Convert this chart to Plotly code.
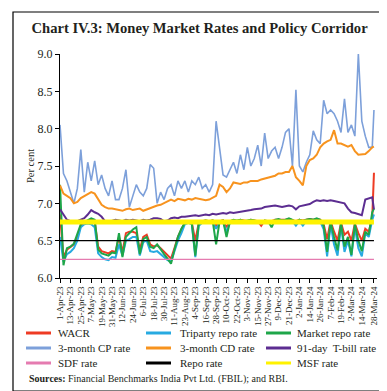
import pandas as pd
import plotly.graph_objects as go

# ---------------- data ----------------
dates = list(pd.date_range("2023-04-01", "2024-03-26", freq="4D").strftime("%Y-%m-%d")) + ["2024-03-28"]

wacr = [6.85, 6.28, 6.38, 6.42, 6.45, 6.55, 6.70, 6.74, 6.76, 6.78,
        6.76, 6.42, 6.36, 6.35, 6.33, 6.36, 6.35, 6.55, 6.35, 6.60,
        6.62, 6.62, 6.60, 6.38, 6.55, 6.58, 6.45, 6.42, 6.44, 6.40,
        6.35, 6.30, 6.26, 6.40, 6.55, 6.65, 6.74, 6.76, 6.74, 6.50,
        6.74, 6.76, 6.77, 6.76, 6.77, 6.70, 6.76, 6.77, 6.68, 6.76,
        6.77, 6.76, 6.78, 6.77, 6.76, 6.78, 6.77, 6.76, 6.70, 6.77,
        6.76, 6.76, 6.78, 6.78, 6.77, 6.78, 6.79, 6.78, 6.76, 6.78,
        6.77, 6.78, 6.79, 6.78, 6.79, 6.78, 6.72, 6.52, 6.76, 6.62,
        6.50, 6.74, 6.58, 6.62, 6.50, 6.73, 6.60, 6.50, 6.66, 6.62,
        6.80, 7.41]
triparty = [6.55, 6.22, 6.32, 6.35, 6.40, 6.50, 6.68, 6.72, 6.73, 6.72,
            6.68, 6.33, 6.28, 6.25, 6.24, 6.28, 6.27, 6.45, 6.30, 6.50,
            6.52, 6.55, 6.55, 6.30, 6.48, 6.50, 6.36, 6.35, 6.36, 6.32,
            6.28, 6.24, 6.22, 6.35, 6.50, 6.60, 6.72, 6.74, 6.72, 6.28,
            6.70, 6.74, 6.75, 6.74, 6.75, 6.66, 6.74, 6.75, 6.62, 6.74,
            6.75, 6.74, 6.76, 6.75, 6.74, 6.76, 6.75, 6.74, 6.73, 6.75,
            6.74, 6.74, 6.76, 6.77, 6.75, 6.76, 6.77, 6.76, 6.70, 6.76,
            6.70, 6.76, 6.77, 6.75, 6.76, 6.76, 6.65, 6.29, 6.72, 6.45,
            6.30, 6.70, 6.35, 6.50, 6.29, 6.68, 6.40, 6.29, 6.60, 6.55,
            6.78, 6.85]
market_repo = [7.25, 6.17, 6.40, 6.42, 6.46, 6.60, 6.72, 6.75, 6.77, 6.80,
               6.78, 6.38, 6.33, 6.32, 6.30, 6.34, 6.33, 6.60, 6.28, 6.55,
               6.60, 6.65, 6.68, 6.32, 6.52, 6.55, 6.42, 6.40, 6.45, 6.38,
               6.32, 6.26, 6.19, 6.38, 6.55, 6.66, 6.74, 6.76, 6.73, 6.30,
               6.73, 6.76, 6.77, 6.76, 6.77, 6.45, 6.76, 6.77, 6.55, 6.76,
               6.78, 6.77, 6.78, 6.76, 6.77, 6.78, 6.77, 6.76, 6.74, 6.77,
               6.76, 6.68, 6.78, 6.79, 6.77, 6.78, 6.80, 6.78, 6.74, 6.78,
               6.76, 6.78, 6.79, 6.78, 6.80, 6.78, 6.70, 6.35, 6.75, 6.55,
               6.37, 6.73, 6.42, 6.55, 6.31, 6.72, 6.50, 6.36, 6.62, 6.58,
               6.88, 6.93]
cp_3m = [8.05, 7.40, 7.30, 7.15, 7.00, 7.20, 7.72, 7.15, 7.55, 7.30,
         7.57, 7.25, 7.38, 7.20, 7.10, 7.30, 7.05, 7.05, 7.20, 7.45,
         6.95, 7.10, 7.25, 7.15, 7.10, 7.20, 7.52, 7.47, 7.00, 7.15,
         7.05, 7.20, 7.25, 7.10, 7.30, 7.20, 7.30, 7.15, 7.30, 7.25,
         7.35, 7.20, 7.25, 7.15, 7.25, 8.10, 7.70, 7.38, 7.35, 7.45,
         7.55, 7.40, 7.65, 7.45, 7.75, 7.50, 7.60, 7.78, 7.50, 7.94,
         7.60, 7.70, 7.75, 7.60, 7.75, 7.95, 8.00, 7.50, 8.52, 7.50,
         7.42, 7.55, 7.65, 7.97, 7.85, 7.80, 8.38, 8.20, 8.25, 8.20,
         8.10, 7.95, 8.40, 7.95, 8.05, 7.90, 9.00, 8.10, 7.90, 7.75,
         7.75, 8.25]
cd_3m = [7.24, 7.13, 7.10, 7.07, 7.00, 7.02, 7.07, 7.10, 7.13, 7.15,
         7.13, 7.05, 6.98, 6.95, 6.93, 6.93, 6.92, 6.90, 6.90, 6.92,
         6.93, 6.91, 6.92, 6.93, 6.90, 6.92, 6.93, 6.95, 6.97, 6.98,
         7.00, 7.02, 7.05, 7.03, 7.06, 7.05, 7.04, 7.06, 7.05, 7.07,
         7.06, 7.05, 7.04, 7.05, 7.08, 7.10, 7.25, 7.22, 7.15, 7.20,
         7.28, 7.27, 7.26, 7.28, 7.28, 7.30, 7.30, 7.30, 7.32, 7.33,
         7.35, 7.35, 7.37, 7.40, 7.40, 7.42, 7.42, 7.50, 7.35, 7.30,
         7.24, 7.50, 7.58, 7.60, 7.65, 7.75, 7.80, 7.83, 7.85, 7.98,
         7.80, 7.80, 7.78, 7.76, 7.78, 7.70, 7.65, 7.65, 7.66, 7.70,
         7.75, 7.76]
tbill_91d = [6.92, 6.85, 6.78, 6.76, 6.75, 6.76, 6.78, 6.80, 6.85, 6.91,
             6.88, 6.86, 6.82, 6.76, 6.75, 6.76, 6.78, 6.77, 6.76, 6.78,
             6.77, 6.78, 6.77, 6.76, 6.78, 6.77, 6.78, 6.80, 6.80, 6.79,
             6.76, 6.77, 6.80, 6.81, 6.80, 6.82, 6.82, 6.83, 6.83, 6.84,
             6.83, 6.84, 6.85, 6.84, 6.86, 6.85, 6.86, 6.87, 6.86, 6.88,
             6.87, 6.88, 6.89, 6.90, 6.90, 6.91, 6.92, 6.92, 6.93, 6.95,
             6.96, 6.96, 6.97, 6.96, 6.95, 6.96, 6.97, 6.96, 6.92, 6.96,
             6.97, 6.98, 6.99, 7.02, 7.04, 7.03, 7.04, 7.03, 7.04, 7.03,
             7.02, 7.01, 7.00, 6.93, 6.88, 6.87, 6.86, 6.84, 7.05, 7.07,
             7.08, 6.92]
sdf_rate = 6.25
repo_rate = 6.50
msf_rate = 6.75

tick_dates = list(pd.date_range("2023-04-01", "2024-03-14", freq="12D").strftime("%Y-%m-%d")) + ["2024-03-28"]
tick_labels = ["1-Apr-23", "13-Apr-23", "25-Apr-23", "7-May-23", "19-May-23", "31-May-23",
               "12-Jun-23", "24-Jun-23", "6-Jul-23", "18-Jul-23", "30-Jul-23", "11-Aug-23",
               "23-Aug-23", "4-Sep-23", "16-Sep-23", "28-Sep-23", "10-Oct-23", "22-Oct-23",
               "3-Nov-23", "15-Nov-23", "27-Nov-23", "9-Dec-23", "21-Dec-23", "2-Jan-24",
               "14-Jan-24", "26-Jan-24", "7-Feb-24", "19-Feb-24", "2-Mar-24", "14-Mar-24",
               "28-Mar-24"]

# ---------------- figure ----------------
FONT = "Liberation Serif"
TXT = "#231F20"
n = len(dates)
series = [
    ("WACR", wacr, "#EE3B24", 2),
    ("Triparty repo rate", triparty, "#27AAE1", 2),
    ("Market repo rate", market_repo, "#1EA649", 2),
    ("3-month CP rate", cp_3m, "#7DA0DA", 1.6),
    ("3-month CD rate", cd_3m, "#F7931E", 2),
    ("91-day  T-bill rate", tbill_91d, "#5C2D91", 2),
    ("SDF rate", [sdf_rate] * n, "#E57BB0", 1.3),
    ("Repo rate", [repo_rate] * n, "#000000", 1.3),
    ("MSF rate", [msf_rate] * n, "#FFF200", 5),
]

fig = go.Figure()
for name, vals, col, w in series:
    fig.add_trace(go.Scatter(x=dates, y=vals, mode="lines", name=name,
                             line=dict(color=col, width=w), showlegend=False))

W, H = 387, 391
L, R, T, B = 52, 18, 46, 121
pw, ph = W - L - R, H - T - B

def px(x):
    return (x - L) / pw

def py(y):
    return (H - B - y) / ph

shapes = [dict(type="rect", xref="paper", yref="paper",
               x0=px(5), x1=px(382), y0=py(383), y1=py(4),
               line=dict(color="black", width=1.2), fillcolor="rgba(0,0,0,0)", layer="below")]
annotations = [
    dict(text="Per cent", xref="paper", yref="paper", x=px(22), y=0.5,
         textangle=-90, showarrow=False, font=dict(size=10.5, family=FONT, color=TXT),
         xanchor="center", yanchor="middle"),
    dict(text="<b>Sources:</b> Financial Benchmarks India Pvt Ltd. (FBIL); and RBI.",
         xref="paper", yref="paper", x=px(19), y=py(371), xanchor="left", yanchor="middle",
         showarrow=False, font=dict(size=10, family=FONT, color=TXT)),
]

# custom legend: 3 columns x 3 rows
col_line_x = [18, 138, 258]
col_text_x = [48, 170, 287]
row_y = [325, 340, 355]
for k, (name, vals, col, w) in enumerate(series):
    r, c = divmod(k, 3)
    yy = py(row_y[r])
    shapes.append(dict(type="line", xref="paper", yref="paper",
                       x0=px(col_line_x[c]), x1=px(col_line_x[c] + 25), y0=yy, y1=yy,
                       line=dict(color=col, width=3)))
    annotations.append(dict(text=name, xref="paper", yref="paper", x=px(col_text_x[c]), y=yy,
                            xanchor="left", yanchor="middle", showarrow=False,
                            font=dict(size=11, family=FONT, color=TXT)))

fig.update_layout(
    width=W, height=H,
    margin=dict(l=L, r=R, t=T, b=B, autoexpand=False),
    paper_bgcolor="white", plot_bgcolor="white",
    font=dict(family=FONT, size=10, color=TXT),
    title=dict(text="<b>Chart IV.3: Money Market Rates and Policy Corridor</b>",
               x=0.495, xref="container", xanchor="center", y=1 - 20 / H, yanchor="middle",
               font=dict(family=FONT, size=14.6, color=TXT)),
    showlegend=False,
    xaxis=dict(type="date", range=["2023-04-01", "2024-03-31 12:00"],
               tickvals=tick_dates, ticktext=tick_labels, tickangle=-90,
               tickfont=dict(size=9, family=FONT, color=TXT), automargin=False,
               showline=True, linecolor="black", linewidth=1,
               ticks="outside", ticklen=4, tickcolor="black",
               showgrid=False, zeroline=False),
    yaxis=dict(range=[6.0, 9.0], dtick=0.5, tickformat=".1f",
               tickfont=dict(size=12, family=FONT, color=TXT), automargin=False,
               showline=True, linecolor="black", linewidth=1,
               ticks="outside", ticklen=4, tickcolor="black",
               showgrid=False, zeroline=False),
    shapes=shapes,
    annotations=annotations,
)

fig.write_html("out.html")
